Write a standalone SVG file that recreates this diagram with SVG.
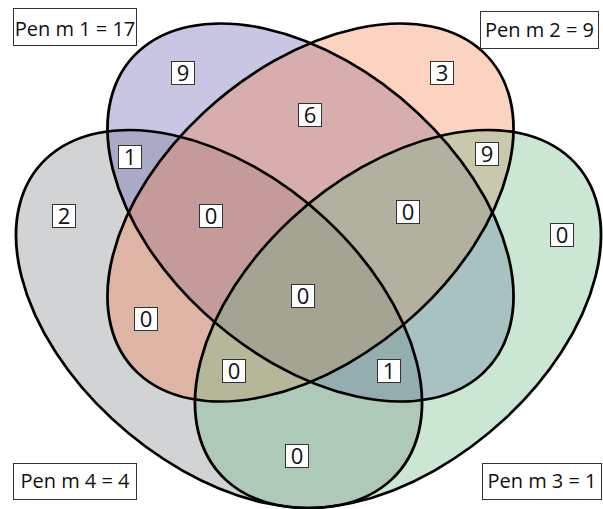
<svg xmlns="http://www.w3.org/2000/svg" xmlns:xlink="http://www.w3.org/1999/xlink" width="603" height="509" viewBox="0 0 603 509">
<style>
.fill{fill-opacity:0.35;stroke:none}
.edge{fill:none;stroke:#000;stroke-width:2.6}
.lb{fill:#fff;stroke:#333;stroke-width:1}
.num{font-family:"Open Sans","Noto Sans",sans-serif;font-size:22px;fill:#111;text-anchor:middle}
.ttl{font-family:"Open Sans","Noto Sans",sans-serif;font-size:20px;fill:#111;text-anchor:middle}
</style>
<defs>
<ellipse id="eg" cx="0" cy="0" rx="227.1" ry="141" transform="translate(219,319) scale(1.074,1) rotate(45)"/>
<ellipse id="eb" cx="0" cy="0" rx="227.1" ry="141" transform="translate(310.5,212.5) scale(1.074,1) rotate(45)"/>
<ellipse id="eo" cx="0" cy="0" rx="227.1" ry="141" transform="translate(310.5,212.5) scale(1.074,1) rotate(-45)"/>
<ellipse id="ec" cx="0" cy="0" rx="227.1" ry="141" transform="translate(398,319) scale(1.074,1) rotate(-45)"/>
</defs>
<g id="set4"><use xlink:href="#eg" class="fill" fill="#7e8187"/></g>
<g id="set1"><use xlink:href="#eb" class="fill" fill="#625cac"/></g>
<g id="set2"><use xlink:href="#eo" class="fill" fill="#f67e4b"/></g>
<g id="set3"><use xlink:href="#ec" class="fill" fill="#6db884"/></g>
<g id="outlines">
<use xlink:href="#eg" class="edge" vector-effect="non-scaling-stroke"/>
<use xlink:href="#eb" class="edge" vector-effect="non-scaling-stroke"/>
<use xlink:href="#eo" class="edge" vector-effect="non-scaling-stroke"/>
<use xlink:href="#ec" class="edge" vector-effect="non-scaling-stroke"/>
</g>
<g id="counts">
<rect class="lb" x="171.5" y="61.5" width="23" height="23"/><text class="num" x="183" y="81">9</text>
<rect class="lb" x="430.5" y="61.5" width="23" height="23"/><text class="num" x="442" y="81">3</text>
<rect class="lb" x="550.5" y="223.5" width="23" height="23"/><text class="num" x="562" y="243">0</text>
<rect class="lb" x="52.5" y="204.5" width="23" height="23"/><text class="num" x="64" y="224">2</text>
<rect class="lb" x="298.5" y="103.5" width="23" height="23"/><text class="num" x="310" y="123">6</text>
<rect class="lb" x="118.5" y="145.5" width="23" height="23"/><text class="num" x="130" y="165">1</text>
<rect class="lb" x="475.5" y="142.5" width="23" height="23"/><text class="num" x="487" y="162">9</text>
<rect class="lb" x="199.5" y="204.5" width="23" height="23"/><text class="num" x="211" y="224">0</text>
<rect class="lb" x="396.5" y="200.5" width="23" height="23"/><text class="num" x="408" y="220">0</text>
<rect class="lb" x="291.5" y="284.5" width="23" height="23"/><text class="num" x="303" y="304">0</text>
<rect class="lb" x="134.5" y="307.5" width="23" height="23"/><text class="num" x="146" y="327">0</text>
<rect class="lb" x="377.5" y="359.5" width="23" height="23"/><text class="num" x="389" y="379">1</text>
<rect class="lb" x="222.5" y="359.5" width="23" height="23"/><text class="num" x="234" y="379">0</text>
<rect class="lb" x="285.5" y="444.5" width="23" height="23"/><text class="num" x="297" y="464">0</text>
</g>
<g id="titles">
<rect class="lb" x="13.5" y="8.5" width="123" height="37"/><text class="ttl" x="75" y="36">Pen m 1 = 17</text>
<rect class="lb" x="480.5" y="11.5" width="118" height="37"/><text class="ttl" x="539.5" y="37">Pen m 2 = 9</text>
<rect class="lb" x="13.5" y="463.5" width="123" height="36"/><text class="ttl" x="75" y="488">Pen m 4 = 4</text>
<rect class="lb" x="482.5" y="463.5" width="119" height="36"/><text class="ttl" x="542" y="488">Pen m 3 = 1</text>
</g>
</svg>
